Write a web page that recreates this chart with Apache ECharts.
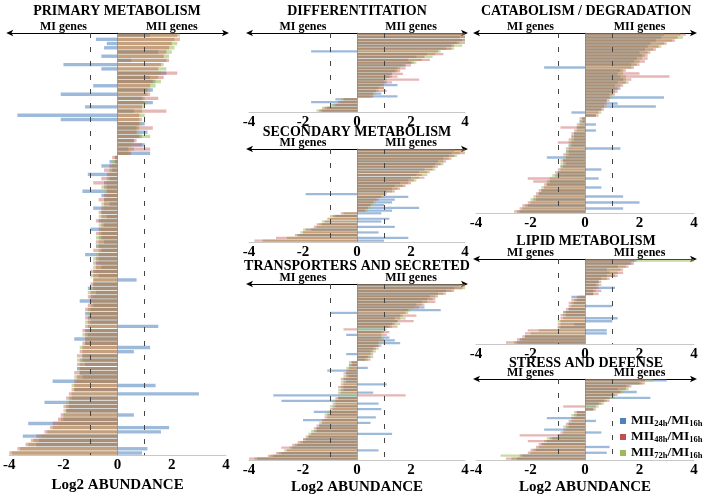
<!DOCTYPE html>
<html><head><meta charset="utf-8">
<script src="https://cdn.jsdelivr.net/npm/echarts@6/dist/echarts.min.js"></script>
<style>html,body{margin:0;padding:0;background:#fff}#c{width:706px;height:498px}</style>
</head><body><div id="c"></div>
<script>
// ---- DATA (log2 abundance, top gene first) ----
const seriesNames = ['MII24h/MI16h', 'MII48h/MI16h', 'MII72h/MI16h'];
const xTicks = [-4, -2, 0, 2, 4];

const primB = [1.2,-0.8,-0.4,-0.5,1.5,-0.6,0.5,-2.0,-0.6,1.8, 1.2,1.4,-0.9,1.3,-2.1,0.9,1.3,-1.2,0.6,-3.7, -2.1,1.0,0.7,1.1,0.9,0.6,1.0,0.4,1.2,
 -0.1,-0.3,-0.6,-0.2,-1.1,-0.3,-0.5,-0.4,-1.3,-0.6,
 -0.5,-0.3,-0.9,-0.6,-0.4,-0.7,-0.5,-1.0,-0.6,-0.7,
 -0.5,-0.8,-0.6,-1.2,-0.7,-0.8,-0.6,-0.9,-0.7,0.7,
 -0.9,-1.1,-0.8,-1.0,-1.4,-0.9,-1.0,-1.2,-1.1,-1.0,
 1.5,-1.2,-1.1,-1.6,-1.2,1.2,0.6,-1.3,-1.4,-1.2,
 -1.5,-1.4,-1.3,-2.4,1.4,-1.6,3.0,-1.7,-2.7,-1.8,
 -1.9,0.6,-2.0,-3.3,1.9,1.6,-3.5,-2.9,-3.0,1.1,
 0.9];
const primR = [2.2,2.3,2.0,1.9,1.8,1.7,1.9,1.6,1.5,2.2, 1.7,1.3,1.2,1.1,1.2,1.5,1.0,0.9,1.8,0.8, 0.9,0.8,1.3,0.7,0.8,0.7,0.9,1.2,0.5,
 -0.2,-0.1,-0.3,-0.5,-0.4,-0.6,-0.9,-0.5,-0.4,-0.5,
 -0.7,-0.5,-0.6,-0.7,-0.6,-0.8,-0.6,-0.7,-0.8,-0.6,
 -0.8,-0.7,-0.9,-0.7,-0.8,-0.9,-0.8,-1.0,-0.9,-0.9,
 -1.0,-0.9,-1.0,-1.1,-1.0,-1.1,-1.2,-1.0,-1.2,-1.1,
 -1.2,-1.3,-1.2,-1.2,-1.3,-1.3,-1.4,-1.5,-1.3,-1.5,
 -1.4,-1.6,-1.5,-1.6,-1.6,-1.7,-1.8,-1.9,-1.8,-2.0,
 -1.9,-2.1,-2.2,-2.4,-2.5,-2.7,-3.0,-3.2,-3.4,-3.7,
 -4.0];
const primG = [2.3,2.1,2.2,2.1,2.0,1.9,1.8,1.7,1.8,1.6, 1.5,1.6,1.4,1.2,1.1,1.0,1.1,1.0,0.9,1.0, 0.8,0.9,0.8,0.8,1.2,0.6,0.5,0.6,0.4,
 -0.1,-0.2,-0.2,-0.3,-0.3,-0.4,-0.4,-0.6,-0.5,-0.4,
 -0.5,-0.6,-0.5,-0.6,-0.7,-0.6,-0.7,-0.6,-0.7,-0.8,
 -0.7,-0.8,-0.7,-0.8,-0.9,-0.7,-0.9,-0.8,-1.0,-0.9,
 -0.9,-1.0,-1.1,-0.9,-1.0,-1.0,-1.1,-1.1,-1.0,-1.2,
 -1.1,-1.1,-1.3,-1.2,-1.2,-1.4,-1.3,-1.3,-1.5,-1.4,
 -1.5,-1.4,-1.6,-1.5,-1.7,-1.6,-1.7,-1.8,-1.9,-1.9,
 -2.0,-2.0,-2.1,-2.2,-2.4,-2.6,-2.8,-3.1,-3.3,-3.6,
 -3.9];

const diffB = [4.0,3.8,4.0,3.7,3.5,3.3,-1.7,2.6,2.2,1.9, 2.1,1.8,1.5,1.4,1.3,1.2,1.0,1.1,1.5,0.8, 0.7,0.9,1.5,-0.8,-1.7,-0.9,-1.1,-1.3];
const diffR = [4.0,4.0,3.9,4.0,3.6,3.5,3.0,3.2,2.5,2.7, 2.0,2.0,1.8,1.6,1.7,1.5,2.3,1.3,1.0,1.0, 1.1,0.6,0.6,-0.5,-0.7,-0.8,-1.2,-1.4];
const diffG = [3.9,4.0,4.0,3.8,3.9,3.6,3.1,2.9,2.8,2.4, 2.2,1.7,1.6,1.5,1.2,1.3,1.1,1.0,0.9,1.0, 0.8,0.7,0.5,-0.6,-0.6,-1.0,-1.3,-1.5];

const secB = [3.6,3.5,3.4,3.2,3.0,2.9,2.8,2.5,2.3,2.2, 2.0,1.9,1.6,1.4,1.3,1.1,-1.9,1.9,1.4,1.3, 1.0,2.3,1.3,0.9,-0.8,1.2,0.9,-1.3,1.4,-1.7, 0.8,-2.2,1.9,1.0];
const secR = [3.9,4.0,3.6,3.5,3.3,3.1,3.0,2.8,2.7,2.4, 2.5,2.1,2.0,1.8,1.6,1.4,1.1,0.9,0.8,0.6, 0.5,0.4,0.3,-0.6,-0.9,-1.1,-1.2,-1.5,-1.6,-1.9, -2.0,-2.3,-3.0,-3.8];
const secG = [4.0,3.8,3.7,3.4,3.2,3.2,2.9,2.9,2.6,2.6, 2.3,2.2,1.9,1.7,1.5,1.3,1.0,1.0,0.7,0.7, 0.6,0.5,0.4,-0.5,-1.0,-1.0,-1.3,-1.4,-1.5,-2.0, -2.1,-2.1,-2.6,-3.5];

const traB = [3.8,3.6,3.3,3.0,2.7,2.6,2.4,2.2,2.5,3.1, -1.0,1.6,1.4,1.5,1.3,1.2,1.0,0.9,-0.4,1.2, 1.4,1.6,0.8,0.6,0.5,-0.4,0.5,0.3,
 -0.2,-0.3,0.4,-1.1,-0.4,-0.3,-0.5,-0.4,1.1,-0.5,
 -0.6,0.6,-3.1,-0.7,-2.8,0.8,-0.9,0.9,-1.6,-1.0,
 0.7,-2.0,0.5,-1.4,-1.5,-1.6,1.3,-1.8,-1.9,-2.0,
 -2.2,-2.4,0.8,-2.8,-3.1,-3.7];
const traR = [4.0,3.9,3.6,3.3,3.0,2.9,2.9,2.5,2.3,1.9, 1.8,2.2,1.6,2.1,1.4,1.5,-0.5,1.2,1.1,0.9, 1.0,0.8,0.9,0.7,0.6,0.6,0.4,0.5,
 -0.3,-0.2,-0.3,-0.4,-0.5,-0.4,-0.6,-0.5,-0.6,-0.7,
 -0.5,-0.7,1.8,-0.8,-0.8,-0.9,-0.8,-1.0,-1.0,-1.1,
 -1.2,-1.3,-1.3,-1.5,-1.6,-1.5,-1.7,-1.9,-2.0,-2.2,
 -2.4,-2.8,-2.6,-3.0,-3.3,-4.0];
const traG = [4.0,4.0,3.5,3.2,2.9,2.8,2.6,2.4,2.1,2.0, 1.9,1.7,1.8,1.5,1.6,1.3,1.1,1.0,0.9,1.0, 0.8,0.9,0.7,0.8,0.7,0.5,0.6,0.4,
 -0.2,-0.3,-0.4,-0.3,-0.4,-0.5,-0.4,-0.6,-0.5,-0.6,
 -0.7,-0.6,-0.7,-0.7,-0.9,-0.8,-1.0,-0.9,-1.1,-1.2,
 -1.1,-1.2,-1.4,-1.4,-1.5,-1.7,-1.8,-1.8,-2.0,-2.1,
 -2.3,-2.5,-2.7,-2.9,-3.2,-3.8];

const catB = [2.9,2.8,2.6,2.4,2.3,2.2,2.0,2.1,1.9,1.8, 1.7,-1.5,1.3,1.2,1.3,1.4,1.2,1.1,1.3,1.0, 0.9,2.9,0.8,1.2,2.6,0.6,-0.5,0.4,
 -0.1,-0.2,0.4,-0.3,0.4,-0.4,-0.5,-0.4,-0.5,-0.6,
 1.3,-0.7,-0.6,-1.4,-0.8,-0.7,-0.9,0.6,-1.0,-1.1,
 0.5,-1.3,-1.4,0.6,-1.6,-1.7,1.4,-1.8,2.0,-2.1,
 1.4,-2.4];
const catR = [3.7,3.4,3.3,3.0,2.7,2.6,2.4,2.3,2.3,2.2, 2.0,1.8,1.5,2.0,3.1,1.7,1.5,1.4,1.2,1.2, 1.1,0.9,0.9,0.8,0.7,0.7,0.5,0.5,
 -0.2,-0.1,-0.3,-0.9,-0.4,-0.5,-0.4,-0.6,-1.0,-0.5,
 -0.7,-0.6,-0.8,-0.7,-0.9,-0.8,-0.8,-1.0,-1.1,-1.0,
 -2.1,-1.9,-1.5,-1.5,-1.7,-1.8,-1.8,-1.9,-2.1,-2.3,
 -2.4,-2.6];
const catG = [3.5,3.6,3.2,2.9,2.8,2.5,2.3,2.2,2.1,2.0, 1.9,1.7,1.4,1.4,1.5,1.5,1.6,1.3,1.1,1.1, 1.0,1.0,0.8,0.7,0.8,0.6,0.6,0.4,
 -0.1,-0.2,-0.2,-0.3,-0.3,-0.4,-0.5,-0.5,-0.6,-0.6,
 -0.6,-0.7,-0.7,-0.8,-0.8,-0.9,-0.9,-0.9,-1.0,-1.2,
 -1.3,-1.4,-1.4,-1.6,-1.6,-1.7,-1.9,-2.0,-2.0,-2.2,
 -2.3,-2.5];

const lipB = [1.9,1.7,1.2,0.8,0.9,0.8,0.6,0.5,0.4,1.1, 0.3,0.3,-0.5,-0.3,-0.4,1.0,-0.6,-0.8,-0.7,1.2, 1.0,-0.4,-0.9,0.8,0.8,-2.2,-2.4,-2.5];
const lipR = [1.8,1.8,1.6,1.4,1.4,1.2,0.9,0.6,0.5,0.5, 0.6,0.5,-0.3,-0.5,-0.6,-0.6,-0.7,-0.7,-0.9,-0.9, -0.9,-1.0,-1.0,-2.1,-2.2,-2.3,-2.5,-2.9];
const lipG = [4.0,1.6,1.5,1.3,1.2,1.1,0.8,0.5,0.6,0.4, 0.4,0.3,-0.2,-0.4,-0.5,-0.5,-0.6,-0.8,-0.8,-0.8, -1.0,-0.9,-1.0,-1.7,-2.0,-2.2,-2.3,-2.6];

const strB = [3.0,2.0,1.5,1.2,1.9,1.0,2.4,0.7,0.5,0.4, 0.3,-0.3,-0.4,-1.4,0.4,-0.6,-0.7,-1.5,0.6,-1.0, -1.3,-1.4,-1.6,0.9,-1.8,0.8,-2.3,-2.5];
const strR = [2.2,2.2,1.7,1.5,1.3,1.2,0.9,0.9,0.6,-0.8, 0.4,-0.4,-0.3,-0.5,-0.6,-0.7,-0.6,-0.8,-0.9,-2.4, -1.2,-2.1,-1.7,-1.8,-2.0,-2.1,-2.4,-2.9];
const strG = [2.5,2.1,1.6,1.6,1.4,1.1,1.1,0.8,0.7,0.5, 0.3,-0.3,-0.5,-0.4,-0.5,-0.6,-0.8,-0.7,-0.8,-1.0, -1.4,-1.5,-1.5,-1.7,-1.9,-2.0,-3.1,-2.7];

// ---- LAYOUT ----
const panels = [
  {t:'PRIMARY METABOLISM', d:[primB,primR,primG], left:8, width:218, top:33, height:427, foot:true, tx:117, ty:11},
  {t:'DIFFERENTITATION', d:[diffB,diffR,diffG], left:249, width:216, top:33, height:79, foot:false, tx:357, ty:11},
  {t:'SECONDARY METABOLISM', d:[secB,secR,secG], left:249, width:216, top:149, height:93, foot:false, tx:357, ty:132},
  {t:'TRANSPORTERS AND SECRETED', d:[traB,traR,traG], left:249, width:216, top:284, height:176, foot:true, tx:357, ty:266},
  {t:'CATABOLISM / DEGRADATION', d:[catB,catR,catG], left:476, width:218, top:33, height:180, foot:false, tx:586, ty:11},
  {t:'LIPID METABOLISM', d:[lipB,lipR,lipG], left:476, width:218, top:259, height:85, foot:false, tx:586, ty:241},
  {t:'STRESS AND DEFENSE', d:[strB,strR,strG], left:476, width:218, top:379, height:81, foot:true, tx:586, ty:363}
];
const colors = ['#4F81BD', '#C0504D', '#9BBB59'];
const opac = [0.55, 0.42, 0.55];
const drawOrder = [0, 2, 1];   // blue, green, red (red on top)
const FONT = 'Liberation Serif';

const grid = [], xAxis = [], yAxis = [], series = [], graphic = [];
panels.forEach((p, i) => {
  grid.push({left:p.left, top:p.top, width:p.width, height:p.height});
  xAxis.push({
    type:'value', gridIndex:i, min:-4, max:4, interval:2, position:'bottom',
    axisLine:{show:true, onZero:false, lineStyle:{color:'#c8c8c8', width:1}},
    axisTick:{show:false}, splitLine:{show:false},
    axisLabel:{margin:3, fontFamily:FONT, fontWeight:'bold', fontSize:15, color:'#000',
      formatter: v => xTicks.includes(v) ? String(v) : ''},
    name: p.foot ? 'Log2 ABUNDANCE' : '', nameLocation:'middle', nameGap:20,
    nameTextStyle:{fontFamily:FONT, fontWeight:'bold', fontSize:15, color:'#000', verticalAlign:'top'}
  });
  xAxis.push({
    type:'value', gridIndex:i, min:-4, max:4, interval:2, position:'top',
    axisLine:{show:true, onZero:false, symbol:['arrow','arrow'], symbolSize:[5,7], symbolOffset:[-3,3],
      lineStyle:{color:'#000', width:1}},
    axisTick:{show:false}, splitLine:{show:false},
    axisLabel:{margin:0, fontFamily:FONT, fontWeight:'bold', fontSize:12, color:'#000',
      formatter: v => v === -2 ? 'MI genes' : (v === 2 ? 'MII genes' : '')}
  });
  yAxis.push({
    type:'category', gridIndex:i, inverse:true, data:p.d[0].map((_, k) => 'g' + (k + 1)),
    axisLine:{show:true, onZero:true, onZeroAxisIndex:2*i, lineStyle:{color:'#a8a8a8', width:1}},
    axisTick:{show:false}, axisLabel:{show:false}, splitLine:{show:false}
  });
  drawOrder.forEach((s, k) => {
    const ser = {
      type:'bar', name:seriesNames[s], xAxisIndex:2*i, yAxisIndex:i, data:p.d[s],
      barGap:'-100%', barCategoryGap:'20%',
      itemStyle:{color:colors[s], opacity:opac[s]}, emphasis:{disabled:true}, silent:true
    };
    if (k === 2) {
      ser.markLine = {silent:true, symbol:'none', label:{show:false},
        lineStyle:{color:'#444', type:[5,9], width:1, opacity:1},
        data:[{xAxis:-1},{xAxis:1}]};
    }
    series.push(ser);
  });
  graphic.push({type:'text', x:p.tx, y:p.ty, silent:true,
    style:{text:p.t, fill:'#000', fontFamily:FONT, fontWeight:'bold', fontSize:14, align:'center', verticalAlign:'middle'}});
});

const chart = echarts.init(document.getElementById('c'), null, {renderer:'canvas'});
chart.setOption({
  animation:false,
  backgroundColor:'#fff',
  grid, xAxis, yAxis, series, graphic,
  legend:{
    data:seriesNames, orient:'vertical', left:620, top:414, itemWidth:6, itemHeight:6, itemGap:2,
    padding:0, icon:'rect', selectedMode:false, itemStyle:{opacity:1},
    formatter: n => {
      const m = n.match(/^MII(\d+h)\/MI(\d+h)$/);
      return '{a|MII}{s|' + m[1] + '}{a|/MI}{s|' + m[2] + '}';
    },
    textStyle:{padding:[0,0,0,0], rich:{
      a:{fontFamily:FONT, fontWeight:'bold', fontSize:13.5, color:'#000', lineHeight:13},
      s:{fontFamily:FONT, fontWeight:'bold', fontSize:8.5, color:'#000', lineHeight:13, padding:[5,0,0,0]}
    }}
  }
});
</script></body></html>
